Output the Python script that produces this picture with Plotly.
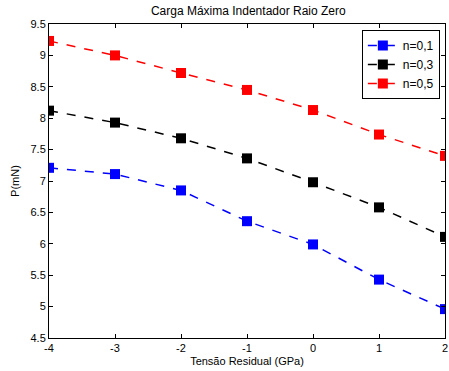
import plotly.graph_objects as go

x_vals = [-4, -3, -2, -1, 0, 1, 2]
n01 = [7.21, 7.11, 6.85, 6.36, 5.99, 5.43, 4.96]
n03 = [8.12, 7.93, 7.68, 7.36, 6.98, 6.58, 6.11]
n05 = [9.23, 9.00, 8.72, 8.45, 8.13, 7.74, 7.40]
names = ["n=0,1", "n=0,3", "n=0,5"]
colors = ["#0000ff", "#000000", "#ff0000"]
xticks = [-4, -3, -2, -1, 0, 1, 2]
yticks = [4.5, 5, 5.5, 6, 6.5, 7, 7.5, 8, 8.5, 9, 9.5]

fig = go.Figure()
for name, ys, c in zip(names, [n01, n03, n05], colors):
    fig.add_trace(go.Scatter(
        x=x_vals, y=ys, name=name, mode="lines+markers",
        line=dict(color=c, dash="dash", width=1.5),
        marker=dict(symbol="square", size=10, color=c),
    ))

axis_common = dict(
    showgrid=False, zeroline=False, mirror="ticks", ticks="inside",
    ticklen=4, tickcolor="#000", linecolor="#000", linewidth=1,
    showline=True, ticklabeloverflow="allow",
    tickfont=dict(family="Liberation Sans, Arial", size=11, color="#000"),
)
fig.update_xaxes(range=[-4, 2], tickvals=xticks, ticktext=[str(t) for t in xticks],
                 title=dict(text="Tensão Residual (GPa)", standoff=4,
                            font=dict(family="Liberation Sans, Arial", size=11, color="#000")),
                 **axis_common)
fig.update_yaxes(range=[4.5, 9.5], tickvals=yticks, ticktext=[f"{t:g}" for t in yticks],
                 title=dict(text="P(mN)", standoff=8,
                            font=dict(family="Liberation Sans, Arial", size=11, color="#000")),
                 **axis_common)
fig.update_layout(
    width=449, height=371,
    margin=dict(l=49, r=1, t=24, b=33),
    paper_bgcolor="white", plot_bgcolor="white",
    title=dict(text="Carga Máxima Indentador Raio Zero", x=0.553, xanchor="center",
               y=0.97, yanchor="middle",
               font=dict(family="Liberation Sans, Arial", size=12, color="#000")),
    legend=dict(x=0.987, y=0.981, xanchor="right", yanchor="top",
                bgcolor="white", bordercolor="#000", borderwidth=1,
                font=dict(family="Liberation Sans, Arial", size=12, color="#000"),
                tracegroupgap=0, itemwidth=30),
    showlegend=True,
)
fig.write_html("out.html")
